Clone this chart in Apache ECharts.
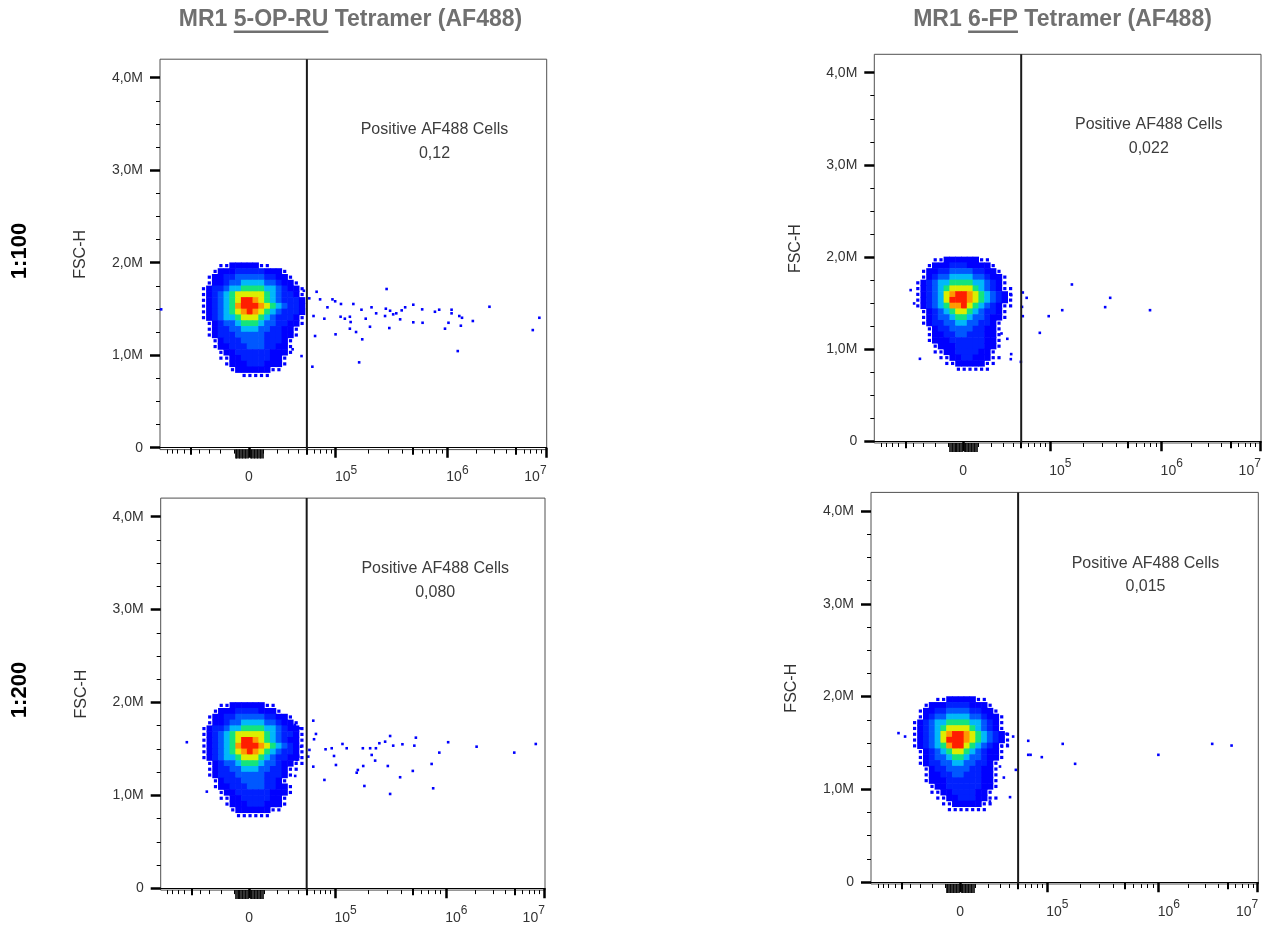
<!DOCTYPE html>
<html><head><meta charset="utf-8">
<script src="https://cdn.jsdelivr.net/npm/echarts@6/dist/echarts.min.js"></script>
<style>html,body{margin:0;padding:0;background:#fff}#c{width:1263px;height:925px}</style>
</head><body><div id="c"></div>
<script>
// ---------------- DATA ----------------
const columnTitles = ['MR1 5-OP-RU Tetramer (AF488)', 'MR1 6-FP Tetramer (AF488)'];
const underlinedParts = ['5-OP-RU', '6-FP'];
const rowLabels = ['1:100', '1:200'];
const gateName = 'Positive AF488 Cells';
const gateFrequencies = ['0,12', '0,022', '0,080', '0,015']; // TL, TR, BL, BR
const gateThreshold = 50000; // AF488 fluorescence

const yTickValues = [0, 1e6, 2e6, 3e6, 4e6];
const yTickLabels = ['0', '1,0M', '2,0M', '3,0M', '4,0M'];
const yMinorValues = [0.25e6, 0.5e6, 0.75e6, 1.25e6, 1.5e6, 1.75e6, 2.25e6, 2.5e6, 2.75e6, 3.25e6, 3.5e6, 3.75e6];
const yRange = [-20000, 4.2e6];

const xTickValues = [0, 1e5, 1e6, 1e7];
const xTickLabels = ['0', '10^5', '10^6', '10^7'];
const xMediumValues = [-5e4, 5e4, 5e5, 5e6];
const xMinorValues = [-9e4, -8e4, -7e4, -6e4, -4e4, -3e4, -2e4, -1e4, 1e4, 2e4, 3e4, 4e4, 6e4, 7e4, 8e4, 9e4,
  2e5, 3e5, 4e5, 6e5, 7e5, 8e5, 9e5, 2e6, 3e6, 4e6, 6e6, 7e6, 8e6, 9e6];
const xNearZeroValues = [-9e3, -8e3, -7e3, -6e3, -5e3, -4e3, -3e3, -2e3, -1e3, 1e3, 2e3, 3e3, 4e3, 5e3, 6e3, 7e3, 8e3, 9e3];

// biexponential display calibration: fluorescence value -> display channel (0..1000)
const biexWidth = 30000;
const biexCalibration = [[0, 230], [1e5, 454], [1e6, 742], [1e7, 998]];

// pseudocolor density bins (display channel x, FSC-H y); levels 0..9
const binOrigin = [105, 2.0e6];
const binStep = [15, 62500];
const densityTL = [
"000112222211000000",
"001222333332221000",
"012233444443322100",
"012234455554432210",
"123345566665543221",
"123456777776543321",
"123456799876543332",
"123456899987654332",
"123456789876543332",
"123455677765433321",
"012344566654433221",
"012334455544332210",
"012333444443332210",
"001233344443332100",
"001223334443322100",
"000122333333222100",
"000112233333221000",
"000012223332221000",
"000001222222110000",
"000000011111000000"];
const densityTR = [
"000112222221100000",
"001222333222210000",
"012233444433221000",
"012344555544322100",
"123455666655432100",
"123456777765432110",
"123457899876543210",
"123457999876543210",
"123456889765432110",
"012345677654332100",
"012344566544322100",
"012334455443321000",
"001233444433221000",
"001223344333221000",
"001222333333221000",
"000122233333221000",
"000112233332210000",
"000011223322211000",
"000001122222110000",
"000000011111100000"];
const densityBL = [
"000112222221100000",
"001222333322210000",
"012233444443322100",
"012234455554432210",
"123345566665543221",
"123456777776543321",
"123456799876543221",
"123456899987654321",
"123456789876543321",
"123455677765433221",
"012344566654432211",
"012334455544332110",
"012333444443332100",
"001233344443321000",
"001223334443322100",
"000122333333222100",
"000112233333221000",
"000012223332221000",
"000001222222110000",
"000000111111000000"];
const densityBR = [
"000011222221100000",
"001222333322210000",
"012233444433221000",
"012344555544322100",
"123455666655432100",
"123456777765432100",
"123457899876543210",
"123457999876543210",
"123456899765432110",
"012345677654322100",
"012344566544322100",
"012334455443321000",
"001233444433221000",
"001223344333221000",
"001222333333221000",
"000122333333221000",
"000112233332210000",
"000011223332211000",
"000001122222110000",
"000000111111100000"];

// sparse events (display channel, FSC-H)
const eventsTL = [[372,1.697e6],[386,1.615e6],[405,1.686e6],[414,1.604e6],[446,1.604e6],[453,1.583e6],[468,1.554e6],[500,1.554e6],[433,1.518e6],[397,1.424e6],[425,1.395e6],[467,1.416e6],[478,1.395e6],[491,1.416e6],[493,1.359e6],[491,1.287e6],[454,1.226e6],[507,1.251e6],[523,1.172e6],[521,1.492e6],[547,1.518e6],[532,1.395e6],[559,1.453e6],[543,1.308e6],[586,1.716e6],[584,1.503e6],[595,1.481e6],[603,1.442e6],[611,1.453e6],[625,1.485e6],[634,1.518e6],[582,1.424e6],[621,1.388e6],[593,1.294e6],[655,1.546e6],[655,1.356e6],[678,1.496e6],[679,1.351e6],[711,1.470e6],[722,1.492e6],[754,1.492e6],[754,1.453e6],[746,1.351e6],[774,1.424e6],[781,1.405e6],[737,1.287e6],[778,1.319e6],[809,1.370e6],[852,1.524e6],[981,1.405e6],[964,1.272e6],[770,1.045e6],[515,0.923e6],[394,0.876e6],[366,0.991e6],[343,1.064e6],[401,1.208e6],[3,1.496e6]];
const eventsTR = [[384,1.614e6],[394,1.556e6],[382,1.458e6],[384,1.357e6],[451,1.357e6],[486,1.422e6],[511,1.701e6],[597,1.455e6],[610,1.556e6],[713,1.422e6],[428,1.176e6],[379,0.861e6],[354,0.945e6],[353,0.890e6],[342,1.585e6],[354,1.585e6],[329,1.169e6],[344,1.111e6],[118,0.894e6],[94,1.640e6],[103,1.495e6]];
const eventsBL = [[68,1.572e6],[120,1.040e6],[397,1.804e6],[404,1.661e6],[399,1.604e6],[397,1.309e6],[384,1.417e6],[387,1.489e6],[429,1.496e6],[426,1.166e6],[445,1.507e6],[451,1.424e6],[456,1.327e6],[473,1.553e6],[484,1.507e6],[513,1.273e6],[510,1.244e6],[527,1.316e6],[530,1.101e6],[526,1.507e6],[545,1.507e6],[549,1.435e6],[558,1.374e6],[560,1.507e6],[569,1.561e6],[584,1.578e6],[597,1.639e6],[605,1.535e6],[591,1.316e6],[597,1.015e6],[623,1.195e6],[629,1.550e6],[656,1.263e6],[660,1.535e6],[664,1.621e6],[705,1.338e6],[709,1.076e6],[725,1.460e6],[748,1.572e6],[822,1.524e6],[920,1.460e6],[976,1.553e6],[363,1.722e6],[349,1.758e6],[365,1.524e6],[354,1.381e6],[350,1.209e6],[358,1.417e6]];
const eventsBR = [[71,1.606e6],[88,1.569e6],[350,1.598e6],[352,1.480e6],[367,1.569e6],[374,1.210e6],[359,0.916e6],[343,1.127e6],[333,1.246e6],[406,1.523e6],[406,1.372e6],[412,1.372e6],[441,1.347e6],[495,1.490e6],[527,1.275e6],[742,1.372e6],[881,1.490e6],[931,1.472e6],[307,0.869e6],[338,1.461e6]];

const densities = [densityTL, densityTR, densityBL, densityBR];
const events = [eventsTL, eventsTR, eventsBL, eventsBR];

// ---------------- STYLE / LAYOUT ----------------
const FONT = '"Liberation Sans", Arial, Helvetica, sans-serif';
const palette = ['', '#0000ff', '#0000ff', '#0020ff', '#0058ff', '#00b8fa', '#14e47c', '#dcee00', '#ff9800', '#ff1e00'];
const panels = [
  {left: 160,   top: 59.2,  width: 386.7, height: 390.4},
  {left: 874.3, top: 54.3,  width: 386.7, height: 388.7},
  {left: 160.7, top: 498.1, width: 384.3, height: 392.0},
  {left: 871,   top: 492.4, width: 387.3, height: 391.6}
];

function toDisplay(v) {
  const s = Math.asinh(v / biexWidth);
  const S = biexCalibration.map(a => Math.asinh(a[0] / biexWidth));
  let k = 0;
  if (s > S[1]) k = s > S[2] ? 2 : 1;
  const d0 = biexCalibration[k][1], d1 = biexCalibration[k + 1][1];
  return d0 + (s - S[k]) * (d1 - d0) / (S[k + 1] - S[k]);
}
const majorD = xTickValues.map(toDisplay);

const grid = [], xAxis = [], yAxis = [], series = [], graphic = [];

panels.forEach((p, i) => {
  grid.push({left: p.left, top: p.top, width: p.width, height: p.height, show: true,
    outerBoundsMode: 'none', containLabel: false,
    borderColor: '#505050', borderWidth: 1, backgroundColor: 'rgba(0,0,0,0)'});
  const base = {gridIndex: i, type: 'value', min: 0, max: 1000, position: 'bottom', offset: 0,
    splitLine: {show: false}, axisLine: {show: false}, axisLabel: {show: false}};
  xAxis.push(Object.assign({}, base, {
    axisLine: {show: true, lineStyle: {color: '#000', width: 1}},
    axisTick: {show: true, customValues: majorD, length: 10, lineStyle: {color: '#000', width: 2.5}},
    axisLabel: {show: true, customValues: majorD, margin: 15,
      formatter: (val) => {
        let idx = 0, best = 1e9;
        majorD.forEach((d, j) => { if (Math.abs(d - val) < best) { best = Math.abs(d - val); idx = j; } });
        const lab = xTickLabels[idx];
        if (lab.indexOf('^') < 0) return '{n|' + lab + '}';
        const parts = lab.split('^');
        if (idx === majorD.length - 1) return '{n|' + parts[0] + '}{s|' + parts[1] + '}{pr|}';
        return '{pl|}{n|' + parts[0] + '}{s|' + parts[1] + '}';
      },
      rich: {
        n: {fontSize: 14, color: '#333', fontFamily: FONT, lineHeight: 20, verticalAlign: 'bottom'},
        s: {fontSize: 12, color: '#333', fontFamily: FONT, lineHeight: 20, verticalAlign: 'top'},
        pl: {width: 21, lineHeight: 20},
        pr: {width: 21, lineHeight: 20}
      }}
  }));
  xAxis.push(Object.assign({}, base, {axisTick: {show: true, customValues: xMediumValues.map(toDisplay), length: 7, lineStyle: {color: '#000', width: 2}}}));
  xAxis.push(Object.assign({}, base, {axisTick: {show: true, customValues: xMinorValues.map(toDisplay), length: 4, lineStyle: {color: '#000', width: 1}}}));
  xAxis.push(Object.assign({}, base, {axisTick: {show: true, customValues: xNearZeroValues.map(toDisplay), length: 9, lineStyle: {color: '#000', width: 1.6}}}));

  yAxis.push({gridIndex: i, type: 'value', min: yRange[0], max: yRange[1], position: 'left', offset: 0,
    splitLine: {show: false}, axisLine: {show: false},
    axisTick: {show: true, customValues: yTickValues, length: 10, lineStyle: {color: '#000', width: 2.5}},
    axisLabel: {show: true, customValues: yTickValues, margin: 17, fontSize: 14, color: '#333', fontFamily: FONT,
      formatter: (v) => { const j = yTickValues.findIndex(t => Math.abs(t - v) < 1); return j >= 0 ? yTickLabels[j] : ''; }},
    name: 'FSC-H', nameLocation: 'middle', nameGap: 71,
    nameTextStyle: {fontSize: 16, color: '#333', fontFamily: FONT}});
  yAxis.push({gridIndex: i, type: 'value', min: yRange[0], max: yRange[1], position: 'left', offset: 0,
    splitLine: {show: false}, axisLine: {show: false}, axisLabel: {show: false},
    axisTick: {show: true, customValues: yMinorValues, length: 4, lineStyle: {color: '#000', width: 1}}});

  const xi = i * 4, yi = i * 2;
  const cellW = binStep[0] / 1000 * p.width + 0.6;
  const cellH = binStep[1] / (yRange[1] - yRange[0]) * p.height + 0.6;
  const cells = [];
  densities[i].forEach((row, r) => {
    for (let c = 0; c < row.length; c++) {
      const lv = +row[c];
      if (lv > 0) cells.push([binOrigin[0] + (c + 0.5) * binStep[0], binOrigin[1] - (r + 0.5) * binStep[1], lv]);
    }
  });
  series.push({type: 'scatter', xAxisIndex: xi, yAxisIndex: yi, data: cells, symbol: 'rect',
    symbolSize: (val) => val[2] === 1 ? [3.2, 3.2] : [cellW, cellH],
    itemStyle: {color: (pp) => palette[pp.value[2]], opacity: 1}, silent: true, animation: false, z: 2});
  series.push({type: 'scatter', xAxisIndex: xi, yAxisIndex: yi, data: events[i], symbol: 'rect', symbolSize: 2.6,
    itemStyle: {color: '#0000ff', opacity: 1}, silent: true, animation: false, z: 3});
  const gD = toDisplay(gateThreshold);
  series.push({type: 'line', xAxisIndex: xi, yAxisIndex: yi, data: [[gD, yRange[0]], [gD, yRange[1]]],
    symbol: 'none', lineStyle: {color: '#1a1a1a', width: 2}, silent: true, animation: false, z: 4});

  // gate annotation
  graphic.push({type: 'text', x: p.left + 274.5, y: p.top + 70.7, silent: true,
    style: {text: gateName, font: '16px ' + FONT, fill: '#3c3c3c', textAlign: 'center', textVerticalAlign: 'middle', align: 'center', verticalAlign: 'middle'}});
  graphic.push({type: 'text', x: p.left + 274.5, y: p.top + 94, silent: true,
    style: {text: gateFrequencies[i], font: '16px ' + FONT, fill: '#3c3c3c', textAlign: 'center', textVerticalAlign: 'middle', align: 'center', verticalAlign: 'middle'}});
});

// column titles with underlined ligand names
const titleFont = 'bold 23px ' + FONT;
const mctx = document.createElement('canvas').getContext('2d');
mctx.font = titleFont;
const titleCenters = [350.5, 1062.5];
columnTitles.forEach((t, i) => {
  const total = mctx.measureText(t).width;
  const x0 = titleCenters[i] - total / 2;
  const pre = t.slice(0, t.indexOf(underlinedParts[i]));
  const ux = x0 + mctx.measureText(pre).width;
  const uw = mctx.measureText(underlinedParts[i]).width;
  graphic.push({type: 'text', x: x0, y: 20, silent: true,
    style: {text: t, font: titleFont, fill: '#707070', textAlign: 'left', textVerticalAlign: 'middle', align: 'left', verticalAlign: 'middle'}});
  graphic.push({type: 'rect', silent: true, shape: {x: ux, y: 30.5, width: uw, height: 2.4}, style: {fill: '#707070'}});
});
// row labels
const rowCenters = [251, 690];
rowLabels.forEach((t, i) => {
  graphic.push({type: 'text', x: 20, y: rowCenters[i], rotation: Math.PI / 2, silent: true,
    style: {text: t, font: 'bold 22px ' + FONT, fill: '#000', textAlign: 'center', textVerticalAlign: 'middle', align: 'center', verticalAlign: 'middle'}});
});

const chart = echarts.init(document.getElementById('c'));
chart.setOption({
  animation: false,
  backgroundColor: '#fff',
  textStyle: {fontFamily: FONT},
  grid, xAxis, yAxis, series, graphic
});
</script>
</body></html>
